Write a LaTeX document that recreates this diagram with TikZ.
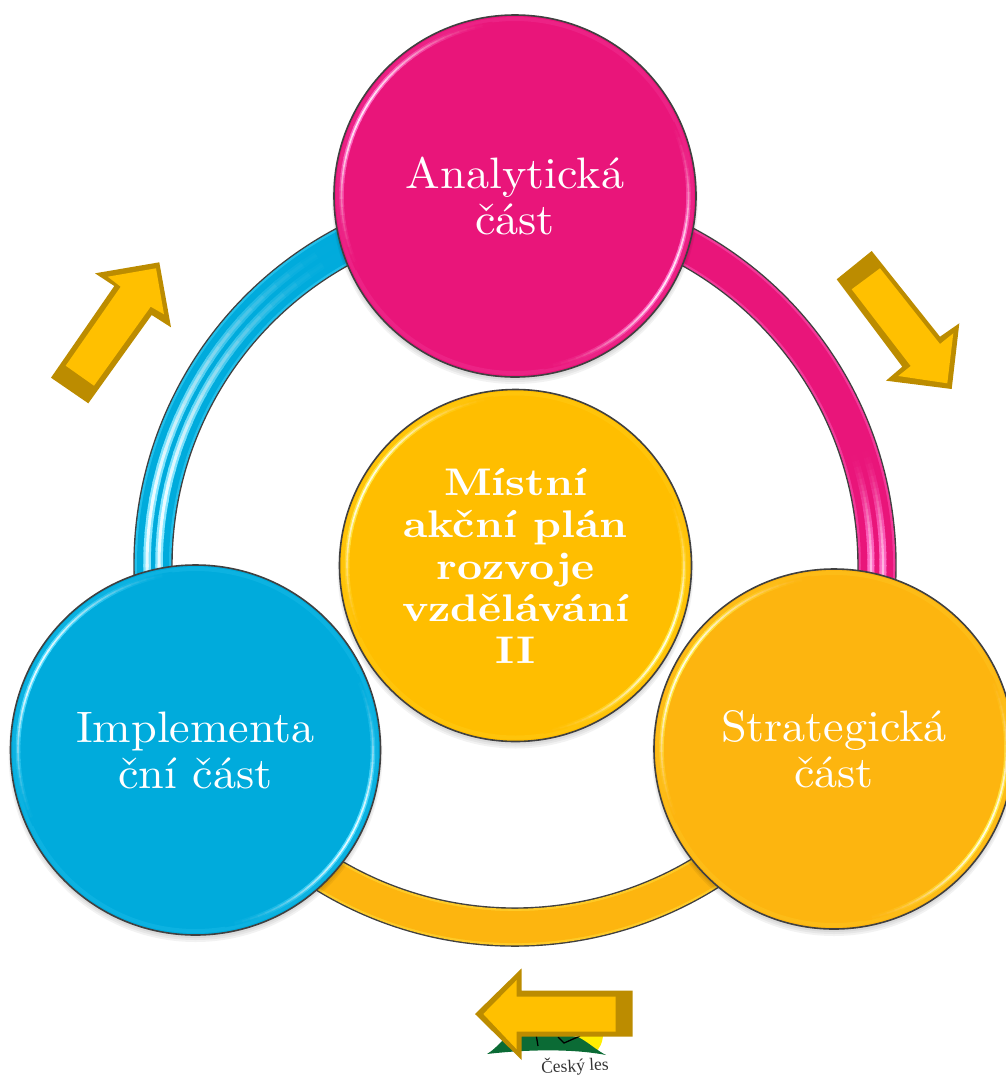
\documentclass[tikz,border=0pt]{standalone}
\usepackage{fontspec}
\newfontfamily\logofont{Liberation Serif}
\newfontfamily\wideplain{lmroman10-regular.otf}[FakeStretch=1.05]
\newfontfamily\widebold{lmroman10-bold.otf}[FakeStretch=1.135]
\definecolor{cpink}{HTML}{E9157A}
\definecolor{cblue}{HTML}{00ABDC}
\definecolor{corange}{HTML}{FDB50F}
\definecolor{cgold}{HTML}{FFBE00}
\definecolor{lpink}{HTML}{FF6FC8}
\definecolor{lblue}{HTML}{55DDFF}
\definecolor{lyellow}{HTML}{FFE94A}
\definecolor{adark}{HTML}{BC8C00}
\definecolor{afill}{HTML}{FFC000}
\definecolor{rimline}{HTML}{404040}
\definecolor{hillgreen}{HTML}{0B6B35}
\tikzset{
  disc/.style={circle,draw=rimline,line width=1.6pt,inner sep=0pt,align=center,text=white},
  plaintext/.style={font=\wideplain\fontsize{44}{46}\selectfont},
  boldtext/.style={font=\widebold\fontsize{38.5}{42}\selectfont},
  arrowout/.style={fill=adark,draw=none},
  arrowin/.style={fill=afill,draw=none},
  shadowdisc/.style={fill=black,opacity=0.05,draw=none}
}
% cx, cy, r, start, end, light colour, base colour, width
\newcommand{\glossband}[8]{%
  \foreach \i in {0,...,39}{%
    \pgfmathsetmacro\aa{#4+(#5-#4)*\i/40}%
    \pgfmathsetmacro\bb{#4+(#5-#4)*(\i+1.2)/40}%
    \pgfmathsetmacro\pp{100*(sin(180*(\i+.5)/40))^1.6}%
    \draw[line width=#8,color={#6!\pp!#7}] (#1,#2) ++(\aa:#3) arc[start angle=\aa,end angle=\bb,radius=#3];
  }%
}
% cx, cy, r, start, end, colour, light colour
\newcommand{\ringarc}[7]{%
  \draw[line width=39.4pt,color=rimline] (#1,#2) ++(#4:#3) arc[start angle=#4,end angle=#5,radius=#3];
  \draw[line width=36.6pt,color={#7!40!#6}] (#1,#2) ++(#4:#3) arc[start angle=#4,end angle=#5,radius=#3];
  \draw[line width=32pt,color=#6] (#1,#2) ++(#4:#3) arc[start angle=#4,end angle=#5,radius=#3];
}
\newcommand{\discshine}[5]{% cx cy r light base
  \draw[line width=4pt,color={#4!14!#5}] (#1,#2) circle[radius=#3-4];
  \glossband{#1}{#2}{#3-7.5}{155}{262}{#4}{#5}{4.5pt}
  \glossband{#1}{#2}{#3-7.5}{-25}{80}{#4}{#5}{4.5pt}
  \glossband{#1}{#2}{#3-7.5}{155}{262}{white!85!#4}{#5}{1.6pt}
  \glossband{#1}{#2}{#3-7.5}{-25}{80}{white!85!#4}{#5}{1.6pt}
}
\begin{document}
\begin{tikzpicture}[x=1pt,y=-1pt]
\useasboundingbox (0,0) rectangle (1006,1077);
% logo under the lower arrow
\fill[color=yellow!95!orange] (580,1034) -- (603,1034) .. controls (603,1043) and (599,1049) .. (595,1053) -- (575,1048) -- cycle;
\fill[color=hillgreen] (487,1054) .. controls (497,1048) and (505,1037) .. (515,1028) -- (560,1034) -- (578,1037) .. controls (588,1042) and (596,1050) .. (606,1055) .. controls (575,1049) and (530,1049) .. (487,1054) -- cycle;
\draw[line width=1.3pt,color=black] (536,1034) -- (538,1046);
\draw[line width=1.3pt,color=black] (558,1037) -- (564,1043) -- (580,1036);
\node[rotate=3,inner sep=0pt,text=black!80,font=\logofont\fontsize{17.5}{18}\selectfont] (logotext) at (575,1066) {Český les};
% ring
\ringarc{515}{565}{362}{170}{272}{cblue}{lblue}
\ringarc{515}{565}{362}{268}{370}{cpink}{lpink}
\ringarc{515}{565}{362}{30}{150}{corange}{lyellow}
\glossband{515}{565}{356}{135}{240}{lblue!70!white}{cblue}{7.5pt}
\glossband{515}{565}{368}{135}{240}{lblue!70!white}{cblue}{7.5pt}
\glossband{515}{565}{356}{135}{240}{white!90!lblue}{cblue}{3pt}
\glossband{515}{565}{368}{135}{240}{white!90!lblue}{cblue}{3pt}
\glossband{515}{565}{356}{-18}{22}{lpink}{cpink}{7pt}
\glossband{515}{565}{368}{-18}{22}{lpink}{cpink}{7pt}
\glossband{515}{565}{356}{-18}{22}{lpink!50!white}{cpink}{2.2pt}
\glossband{515}{565}{368}{-18}{22}{lpink!50!white}{cpink}{2.2pt}
% shadows
\foreach \d/\e in {0/3,1/4,2/5}{
  \fill[shadowdisc] (515,{196+\e}) circle[radius=181+\d];
  \fill[shadowdisc] (515.5,{565.5+\e}) circle[radius=176+\d];
  \fill[shadowdisc] (195.5,{750+\e}) circle[radius=185+\d];
  \fill[shadowdisc] (834,{749+\e}) circle[radius=180+\d];
}
% discs
\node[disc,fill=cpink,minimum size=362pt,plaintext] (analytic) at (515,196) {Analytická\\část};
\discshine{515}{196}{181}{lpink}{cpink}
\node[disc,fill=cgold,minimum size=352pt,boldtext] (centre) at (515.5,565.5) {Místní\\akční plán\\rozvoje\\vzdělávání\\II};
\discshine{515.5}{565.5}{176}{lyellow}{cgold}
\node[disc,fill=cblue,minimum size=370pt,plaintext] (impl) at (195.5,750) {Implementa\\ční část};
\discshine{195.5}{750}{185}{lblue}{cblue}
\node[disc,fill=corange,minimum size=360pt,plaintext] (strat) at (834,749) {Strategická\\část};
\discshine{834}{749}{180}{lyellow}{corange}
% arrows
\fill[arrowout] (51,377.7) -- (88.3,403.3) -- (151.7,315) -- (171,327.3) -- (159.3,262.3) -- (95,273.3) -- (114.3,286) -- cycle;
\fill[arrowin] (65.7,365.7) -- (94,385.7) -- (150.7,306.7) -- (164,314.3) -- (156,268.3) -- (107.7,276.7) -- (120.7,286.7) -- cycle;
\fill[arrowout] (871.7,251) -- (836.7,279.3) -- (902.3,366.7) -- (886,380.7) -- (951.7,389) -- (959.3,323.3) -- (940,336.7) -- cycle;
\fill[arrowin] (880,268.3) -- (851.7,289.3) -- (910.7,366) -- (898.3,376) -- (947.3,383.3) -- (953.3,333.3) -- (940,344) -- cycle;
\fill[arrowout] (475,1014) -- (521.7,968.3) -- (521.7,990.7) -- (632.7,990.7) -- (632.7,1036.7) -- (521.7,1036.7) -- (521.7,1060) -- cycle;
\fill[arrowin] (483.3,1014) -- (516.7,980) -- (516.7,996.7) -- (615.7,996.7) -- (615.7,1031.7) -- (516.7,1031.7) -- (516.7,1049.3) -- cycle;
\end{tikzpicture}
\end{document}
